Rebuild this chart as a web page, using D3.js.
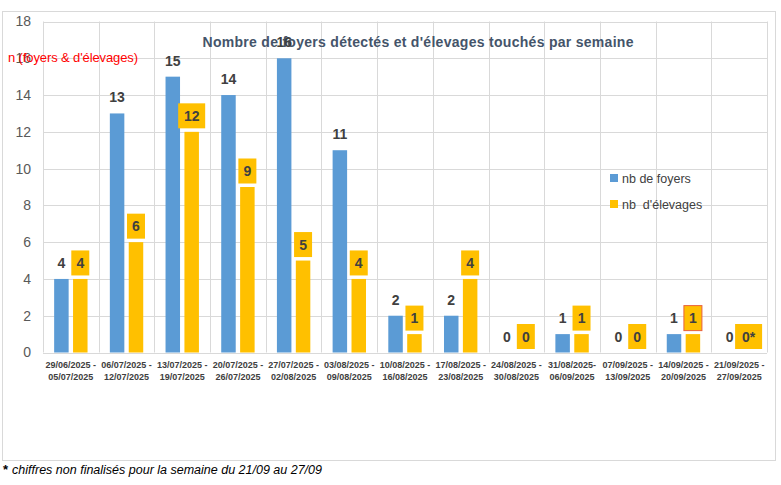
<!DOCTYPE html>
<html><head><meta charset="utf-8">
<script src="https://cdn.jsdelivr.net/npm/d3@7"></script>
<style>body{margin:0;background:#fff}svg{display:block}</style>
</head><body>
<script>
const weeks = ["29/06/2025 -|05/07/2025","06/07/2025 -|12/07/2025","13/07/2025 -|19/07/2025","20/07/2025 -|26/07/2025","27/07/2025 -|02/08/2025","03/08/2025 -|09/08/2025","10/08/2025 -|16/08/2025","17/08/2025 -|23/08/2025","24/08/2025 -|30/08/2025","31/08/2025-|06/09/2025","07/09/2025 -|13/09/2025","14/09/2025 -|20/09/2025","21/09/2025 -|27/09/2025"];
const foyers = [4,13,15,14,16,11,2,2,0,1,0,1,0];
const elevages = [4,6,12,9,5,4,1,4,0,1,0,1,0];
const elevagesSuffix = ["","","","","","","","","","","","","*"];
const highlightedWeek = "14/09/2025 -|20/09/2025";
const yTicks = [0,2,4,6,8,10,12,14,16,18];
const seriesNames = ["nb de foyers","nb  d'élevages"];
const title = "Nombre de foyers détectés et d'élevages touchés par semaine";
const yTitle = "n (foyers & d'élevages)";
const footnote = "chiffres non finalisés pour la semaine du 21/09 au 27/09";

const W=781,H=485;
const FONT="'Liberation Sans', Arial, sans-serif";
const svg=d3.select("body").append("svg").attr("width",W).attr("height",H).style("font-family",FONT);
const blue="#5B9BD5", yellow="#FFC000", grid="#d9d9d9", dark="#404040";

svg.append("rect").attr("x",2.5).attr("y",11.5).attr("width",773).attr("height",449)
  .attr("fill","#fff").attr("stroke",grid);

const x=d3.scaleBand().domain(weeks).range([43,767]).padding(0);
const xs=d3.scaleBand().domain([0,1]).range([0,x.bandwidth()]).paddingInner(0.233).paddingOuter(0.59);
const y=d3.scaleLinear().domain([0,18]).range([352.5,21.5]);

// grid
svg.append("g").selectAll("line").data(yTicks).join("line")
  .attr("x1",43).attr("x2",767).attr("y1",d=>Math.round(y(d))+0.5).attr("y2",d=>Math.round(y(d))+0.5)
  .attr("stroke",grid);
const bounds=weeks.map(w=>x(w)).concat([767]);
svg.append("g").selectAll("line").data(bounds).join("line")
  .attr("x1",d=>Math.round(d)+0.5).attr("x2",d=>Math.round(d)+0.5).attr("y1",y(18)).attr("y2",y(0))
  .attr("stroke",grid);

// y axis labels
const yAxis=d3.axisLeft(y).tickValues(yTicks).tickSize(0).tickPadding(12);
const ga=svg.append("g").attr("transform","translate(43,0)").call(yAxis);
ga.select(".domain").remove();
ga.selectAll("text").attr("font-size",14).attr("fill","#595959").attr("font-family",FONT);

// x axis labels
const xAxis=d3.axisBottom(x).tickSize(0).tickFormat(()=>"");
const gx=svg.append("g").attr("transform","translate(0,352.5)").call(xAxis);
gx.select(".domain").remove();
gx.selectAll(".tick").each(function(d){
  const t=d3.select(this).append("text").attr("fill",dark).attr("font-size",9).attr("font-weight","bold")
    .attr("text-anchor","middle").attr("font-family",FONT);
  d.split("|").forEach((s,i)=>t.append("tspan").attr("x",0).attr("y",15+i*12).text(s));
});

// bars
const data=weeks.map((w,i)=>({w,f:foyers[i],e:elevages[i],s:elevagesSuffix[i]}));
svg.append("g").selectAll("rect").data(data).join("rect")
  .attr("x",d=>x(d.w)+xs(0)).attr("width",xs.bandwidth())
  .attr("y",d=>y(d.f)).attr("height",d=>y(0)-y(d.f)).attr("fill",blue);
svg.append("g").selectAll("rect").data(data).join("rect")
  .attr("x",d=>x(d.w)+xs(1)).attr("width",xs.bandwidth())
  .attr("y",d=>y(d.e)).attr("height",d=>y(0)-y(d.e)).attr("fill",yellow);

// title
svg.append("text").attr("x",418).attr("y",47).attr("text-anchor","middle").attr("font-weight","bold")
  .attr("font-size",14).attr("fill","#44546A").attr("textLength",431).text(title);

// blue labels
svg.append("g").selectAll("text").data(data).join("text")
  .attr("x",d=>x(d.w)+xs(0)+xs.bandwidth()/2).attr("y",d=>y(d.f)-11)
  .attr("text-anchor","middle").attr("font-weight","bold").attr("font-size",14).attr("fill",dark)
  .text(d=>d.f);

// yellow labels in boxes
const lg=svg.append("g").selectAll("g").data(data).join("g")
  .attr("transform",d=>`translate(${x(d.w)+xs(1)+xs.bandwidth()/2},${y(d.e)-16})`);
lg.each(function(d){
  const g=d3.select(this);
  const label=String(d.e)+d.s;
  const bw=label.length>1?27:18;
  g.append("rect").attr("x",-bw/2).attr("y",-12.5).attr("width",bw).attr("height",25)
    .attr("fill",yellow).attr("stroke",d.w===highlightedWeek?"#E8603C":"none").attr("stroke-width",1);
  g.append("text").attr("text-anchor","middle").attr("y",5).attr("font-weight","bold")
    .attr("font-size",14).attr("fill",dark).text(label);
});

// y title (red)
svg.append("text").attr("x",8).attr("y",62).attr("font-size",13).attr("fill","#FF0000")
  .attr("textLength",130).text(yTitle);

// legend
const colors=[blue,yellow];
const leg=svg.append("g").selectAll("g").data(seriesNames).join("g")
  .attr("transform",(d,i)=>`translate(610,${174+i*26})`);
leg.append("rect").attr("width",8).attr("height",8).attr("fill",(d,i)=>colors[i]);
leg.append("text").attr("x",12).attr("y",8.5).attr("font-size",12.5).attr("fill",dark)
  .style("white-space","pre").attr("xml:space","preserve").text(d=>d);

// footnote
const fn=svg.append("text").attr("x",3).attr("y",474).attr("font-size",12.5).attr("fill","#000");
fn.append("tspan").attr("font-weight","bold").attr("font-size",13).text("*");
fn.append("tspan").attr("dx",4).attr("font-style","italic").text(footnote);
</script>
</body></html>
